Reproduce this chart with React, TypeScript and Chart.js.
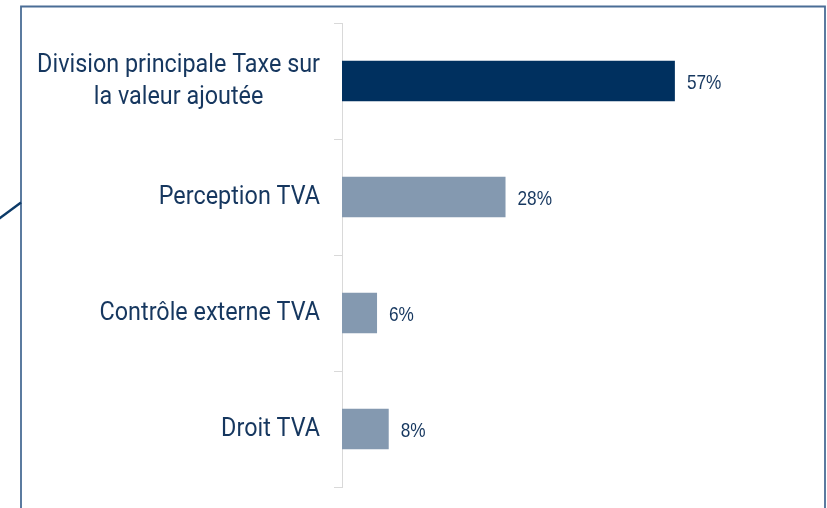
import React, { useEffect, useRef } from "react";
import { Chart, registerables } from "chart.js";

Chart.register(...registerables);

// ---- data ----
const categoryLines: string[][] = [
  ["Division principale Taxe sur", "la valeur ajoutée"],
  ["Perception TVA"],
  ["Contrôle externe TVA"],
  ["Droit TVA"],
];
const shares: number[] = [57, 28, 6, 8];
const barColors: string[] = ["#00305f", "#8499b0", "#8499b0", "#8499b0"];
const valueSuffix = "%";

const TEXT_COLOR = "#16375f";
const FRAME_COLOR = "#4a6d96";
const DIAG_COLOR = "#0c3a68";

const decorPlugin = {
  id: "decor",
  beforeDraw(chart: any) {
    const ctx = chart.ctx;
    ctx.save();
    ctx.fillStyle = "#ffffff";
    ctx.fillRect(0, 0, chart.width, chart.height);
    // frame
    ctx.strokeStyle = FRAME_COLOR;
    ctx.lineWidth = 1.8;
    ctx.beginPath();
    ctx.moveTo(21, chart.height + 5);
    ctx.lineTo(21, 6.5);
    ctx.lineTo(825, 6.5);
    ctx.lineTo(825, chart.height + 5);
    ctx.stroke();
    // diagonal connector
    ctx.strokeStyle = DIAG_COLOR;
    ctx.lineWidth = 2.4;
    ctx.beginPath();
    ctx.moveTo(-2, 219.5);
    ctx.lineTo(21, 202.5);
    ctx.stroke();
    ctx.restore();
  },
  afterDatasetsDraw(chart: any) {
    const ctx = chart.ctx;
    const yScale = chart.scales.y;
    const labels = chart.data.labels as any[];
    const SX = 0.935;
    ctx.save();
    ctx.fillStyle = TEXT_COLOR;
    ctx.textBaseline = "alphabetic";
    ctx.font = "25px Roboto";
    const right = chart.chartArea.left - 22;
    const lh = 31.5;
    labels.forEach((lab, i) => {
      const lines: string[] = Array.isArray(lab) ? lab : [lab];
      const yc = yScale.getPixelForValue(i);
      const maxW = Math.max(...lines.map((l) => ctx.measureText(l).width * SX));
      const cx = right - maxW / 2;
      const first = yc + 7 - ((lines.length - 1) * lh) / 2;
      lines.forEach((l, j) => {
        ctx.save();
        ctx.translate(cx, first + j * lh);
        ctx.scale(SX, 1);
        ctx.textAlign = "center";
        ctx.fillText(l, 0, 0);
        ctx.restore();
      });
    });
    // value labels
    const meta = chart.getDatasetMeta(0);
    const data = chart.data.datasets[0].data as number[];
    ctx.font = "21px 'Liberation Sans'";
    ctx.textAlign = "left";
    meta.data.forEach((el: any, i: number) => {
      ctx.save();
      ctx.translate(el.x + 12, el.y + 7.5);
      ctx.scale(0.82, 1);
      ctx.fillText(`${data[i]}${valueSuffix}`, 0, 0);
      ctx.restore();
    });
    ctx.restore();
  },
};

export default function App() {
  const ref = useRef<HTMLCanvasElement | null>(null);
  useEffect(() => {
    if (!ref.current) return;
    const xMax = 75;
    const chart = new Chart(ref.current, {
      type: "bar",
      data: {
        labels: categoryLines,
        datasets: [
          {
            data: shares,
            backgroundColor: barColors,
            borderWidth: 0,
            categoryPercentage: 1,
            barPercentage: 0.35,
          },
        ],
      },
      options: {
        indexAxis: "y",
        animation: false,
        responsive: false,
        devicePixelRatio: 1,
        layout: { padding: { top: 23, bottom: 21, left: 0, right: 827 - 342 - xMax * 5.84 } },
        plugins: { legend: { display: false }, tooltip: { enabled: false } },
        scales: {
          x: { display: false, min: 0, max: xMax },
          y: {
            type: "category",
            offset: true,
            grid: {
              offset: true,
              drawOnChartArea: false,
              drawTicks: true,
              tickLength: 8,
              color: "#d9d9d9",
              lineWidth: 1,
            },
            border: { display: true, color: "#d9d9d9", width: 1 },
            ticks: { display: false },
            afterFit: (s: any) => {
              s.width = 342;
            },
          },
        },
      },
      plugins: [decorPlugin],
    } as any);
    return () => chart.destroy();
  }, []);
  return (
    <div style={{ position: "absolute", left: 0, top: 0, width: 827, height: 508, background: "#fff", overflow: "hidden" }}>
      <canvas ref={ref} width={827} height={508} style={{ display: "block" }} />
    </div>
  );
}
